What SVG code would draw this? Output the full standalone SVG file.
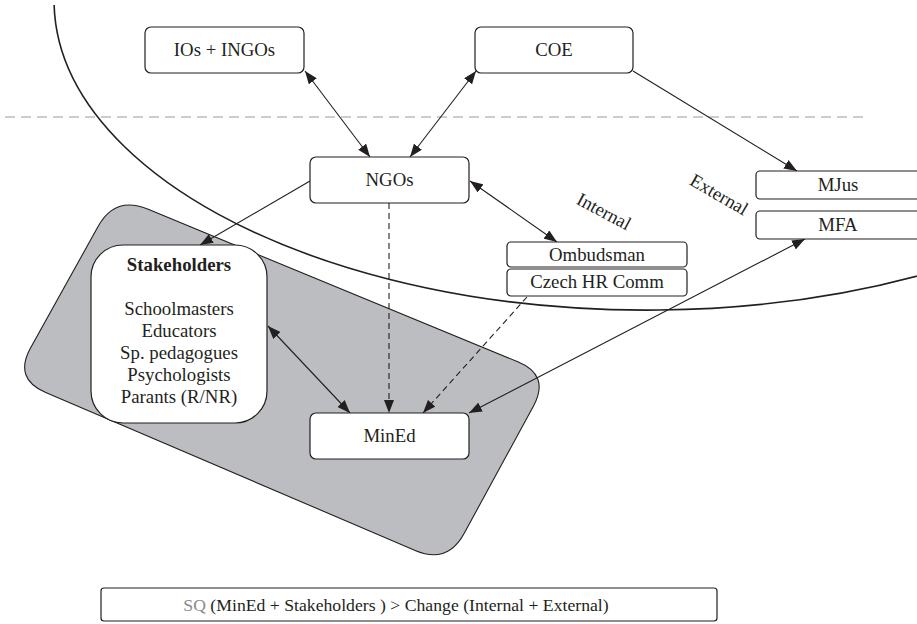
<svg xmlns="http://www.w3.org/2000/svg" width="917" height="624" viewBox="0 0 917 624">
<style>
  .box { fill: #ffffff; stroke: #231f20; stroke-width: 1.2; }
  .t { font-family: "Liberation Serif", "DejaVu Serif", serif; font-size: 18.8px; fill: #231f20; text-anchor: middle; }
  .b { font-weight: bold; }
  .conn { stroke: #231f20; stroke-width: 1.1; fill: none; }
  .dash { stroke-dasharray: 6 4; }
</style>
<defs>
  <marker id="ah" viewBox="0 0 13 10" refX="13" refY="5" markerWidth="13" markerHeight="10" markerUnits="userSpaceOnUse" orient="auto-start-reverse">
    <path d="M0,0 L13,5 L0,10 z" fill="#231f20"/>
  </marker>
</defs>
<rect width="917" height="624" fill="#ffffff"/>

<g id="sq-zone">
  <path d="M147.6,209.1 L517.8,361.8 Q550.2,375.1 533.5,405.9 L464.1,533.5 Q447.4,564.3 415.2,550.5 L45.7,392.5 Q13.5,378.7 30.5,348 L98.2,226.3 Q115.2,195.7 147.6,209.1 Z" fill="#bcbdc0" stroke="#231f20" stroke-width="1.1"/>
</g>

<g id="boundary">
  <line x1="5" y1="117" x2="865" y2="117" stroke="#9a9a9a" stroke-width="1" stroke-dasharray="10 6"/>
  <path d="M54.1,5 A593,310 0 0 0 930,272.5" fill="none" stroke="#231f20" stroke-width="1.6"/>
</g>

<g id="connectors">
  <line class="conn" x1="305" y1="71" x2="370" y2="157" marker-start="url(#ah)" marker-end="url(#ah)"/>
  <line class="conn" x1="476" y1="71" x2="410" y2="157" marker-start="url(#ah)" marker-end="url(#ah)"/>
  <line class="conn" x1="633" y1="71" x2="797" y2="171" marker-end="url(#ah)"/>
  <line class="conn" x1="310" y1="181" x2="200" y2="245" marker-end="url(#ah)"/>
  <line class="conn" x1="470" y1="181" x2="557" y2="242" marker-start="url(#ah)" marker-end="url(#ah)"/>
  <line class="conn dash" x1="389" y1="203" x2="389" y2="413" marker-end="url(#ah)"/>
  <line class="conn dash" x1="527" y1="297" x2="423" y2="413" marker-end="url(#ah)"/>
  <line class="conn" x1="805" y1="239" x2="469" y2="413" marker-start="url(#ah)" marker-end="url(#ah)"/>
  <line class="conn" x1="268" y1="326" x2="350" y2="413" marker-start="url(#ah)" marker-end="url(#ah)"/>
</g>

<g id="ios-ingos">
  <rect class="box" x="145" y="27" width="159" height="46" rx="6"/>
  <text class="t" x="224.5" y="56">IOs + INGOs</text>
</g>
<g id="coe">
  <rect class="box" x="475" y="27" width="158" height="46" rx="6"/>
  <text class="t" x="554" y="56">COE</text>
</g>
<g id="ngos">
  <rect class="box" x="310" y="157" width="159" height="46" rx="6"/>
  <text class="t" x="389.5" y="186">NGOs</text>
</g>
<g id="ombudsman">
  <rect class="box" x="507" y="242" width="180" height="25" rx="4"/>
  <text class="t" x="597" y="261">Ombudsman</text>
</g>
<g id="czech-hr-comm">
  <rect class="box" x="507" y="269" width="180" height="27" rx="4"/>
  <text class="t" x="597" y="288">Czech HR Comm</text>
</g>
<g id="mjus">
  <rect class="box" x="756" y="171" width="180" height="28" rx="4"/>
  <text class="t" x="838" y="191">MJus</text>
</g>
<g id="mfa">
  <rect class="box" x="756" y="211" width="180" height="28" rx="4"/>
  <text class="t" x="838" y="231">MFA</text>
</g>
<g id="stakeholders">
  <rect class="box" x="91" y="245" width="176" height="178" rx="32"/>
  <text class="t b" x="179" y="271">Stakeholders</text>
  <text class="t" x="179" y="315">Schoolmasters</text>
  <text class="t" x="179" y="337">Educators</text>
  <text class="t" x="179" y="359">Sp. pedagogues</text>
  <text class="t" x="179" y="381">Psychologists</text>
  <text class="t" x="179" y="403">Parants (R/NR)</text>
</g>
<g id="mined">
  <rect class="box" x="310" y="413" width="159" height="46" rx="6"/>
  <text class="t" x="389.5" y="442">MinEd</text>
</g>

<g id="labels">
  <text class="t" transform="translate(601,217) rotate(28)">Internal</text>
  <text class="t" transform="translate(716,200) rotate(30)">External</text>
</g>

<g id="formula">
  <rect class="box" x="101" y="588" width="616" height="33" rx="3"/>
  <text class="t" x="396" y="611" style="font-size:17.7px"><tspan fill="#8a8a8a">SQ</tspan> (MinEd + Stakeholders ) &gt; Change (Internal + External)</text>
</g>
</svg>
